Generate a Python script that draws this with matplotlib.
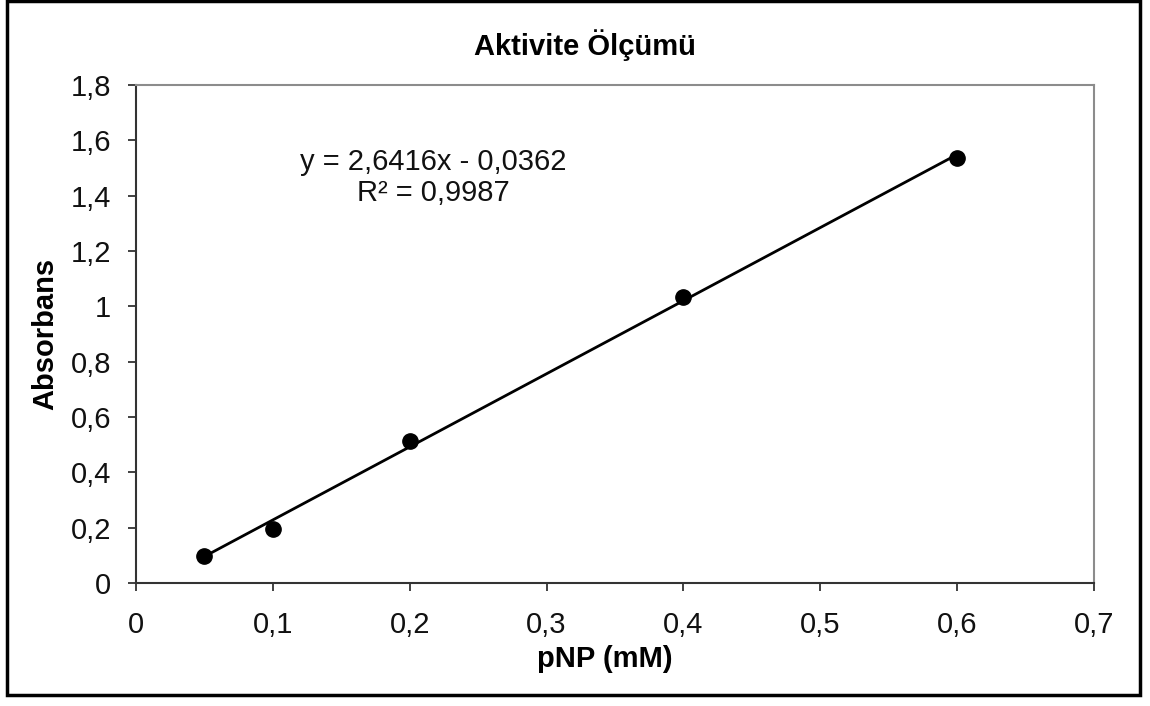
import numpy as np
import matplotlib
matplotlib.use('Agg')
import matplotlib.pyplot as plt
from matplotlib.patches import Rectangle

plt.rcParams['font.family'] = ['Liberation Sans', 'DejaVu Sans']

# pNP konsantrasyonu (mM) ve absorbans
pnp = np.array([0.05, 0.1, 0.2, 0.4, 0.6])
absorbans = np.array([0.098, 0.195, 0.513, 1.033, 1.536])
slope = 2.6416
intercept = -0.0362
r2 = 0.9987

xticks = [0, 0.1, 0.2, 0.3, 0.4, 0.5, 0.6, 0.7]
yticks = [0, 0.2, 0.4, 0.6, 0.8, 1.0, 1.2, 1.4, 1.6, 1.8]

def comma(v):
    s = ('%g' % v).replace('.', ',')
    return s

W, H = 1150, 706
fig = plt.figure(figsize=(W/100, H/100), dpi=100)
ax = fig.add_axes([136/W, 1-583/H, (1094-136)/W, (583-85)/H])

# trend line
xl = np.array([pnp.min(), pnp.max()])
ax.plot(xl, slope*xl + intercept, color='black', lw=2, zorder=2)
ax.plot(pnp, absorbans, 'o', color='black', markersize=11, zorder=3)

ax.set_xlim(0, 0.7)
ax.set_ylim(0, 1.8)
ax.set_xticks(xticks)
ax.set_yticks(yticks)
ax.set_xticklabels([comma(v) for v in xticks])
ax.set_yticklabels([comma(v) for v in yticks])
ax.tick_params(axis='both', direction='out', length=6, width=1.3, colors='#333333',
               labelsize=21, labelcolor='#111111')
ax.tick_params(axis='x', pad=14)
ax.tick_params(axis='y', pad=12)

for s in ['left', 'bottom']:
    ax.spines[s].set_color('#333333')
    ax.spines[s].set_linewidth(1.5)
for s in ['top', 'right']:
    ax.spines[s].set_color('#8c8c8c')
    ax.spines[s].set_linewidth(1.5)

ax.text(0.217, 1.465, 'y = %sx - %s\nR² = %s' % (comma(slope), comma(-intercept), comma(r2)),
        ha='center', va='center', multialignment='center', fontsize=21, linespacing=1.15,
        color='#111111')

ax.set_xlabel('pNP (mM)', fontsize=21, fontweight='bold')
ax.xaxis.set_label_coords((605-136)/958, (583-645)/498)
ax.set_ylabel('Absorbans', fontsize=21, fontweight='bold')
ax.yaxis.set_label_coords((59-136)/958, 0.5)

fig.text(585/W, 1-45/H, 'Aktivite Ölçümü', ha='center', va='center',
         fontsize=21, fontweight='bold')

fig.patches.append(Rectangle((7/W, 11/H), (1140-7)/W, (705-11)/H, transform=fig.transFigure,
                             fill=False, edgecolor='black', lw=2.5))

fig.savefig('out.png', dpi=100)
